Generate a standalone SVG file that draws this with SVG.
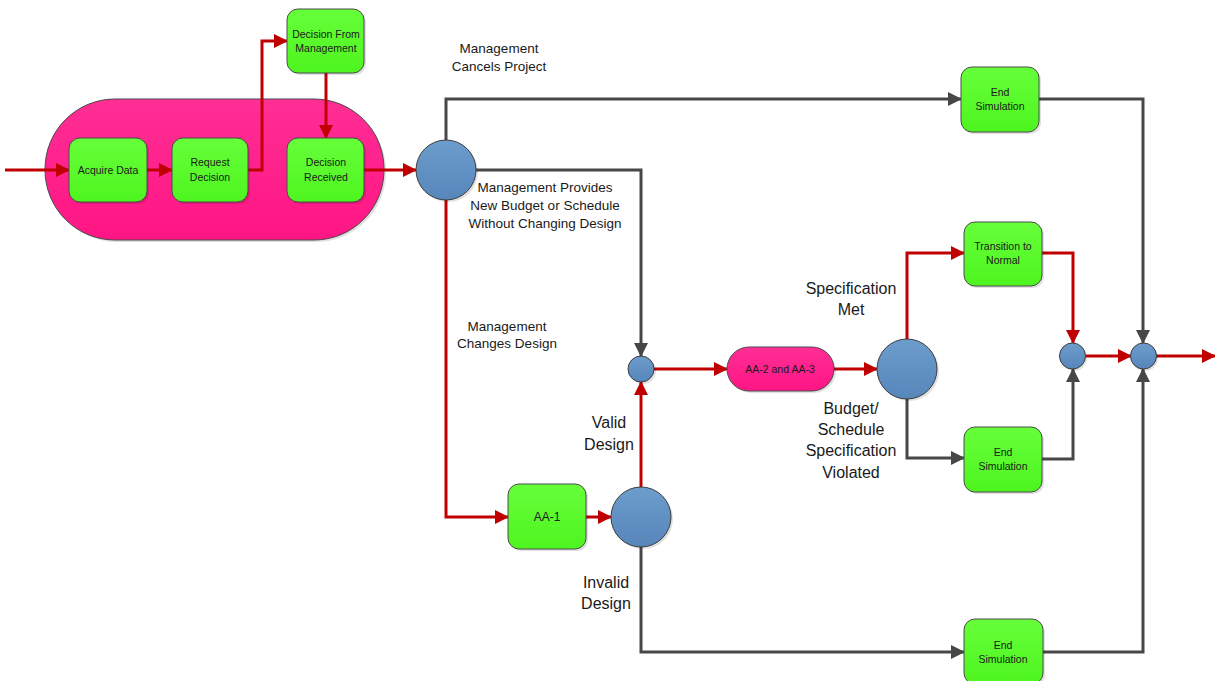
<svg xmlns="http://www.w3.org/2000/svg" width="1215" height="681" viewBox="0 0 1215 681">
<defs>
<linearGradient id="gG" x1="0" y1="0" x2="0" y2="1"><stop offset="0" stop-color="#66FF3A"/><stop offset="1" stop-color="#4EF51F"/></linearGradient>
<linearGradient id="gP" x1="0" y1="0" x2="0" y2="1"><stop offset="0" stop-color="#FF2E94"/><stop offset="1" stop-color="#FF1585"/></linearGradient>
<linearGradient id="gB" x1="0" y1="0" x2="0" y2="1"><stop offset="0" stop-color="#6C9DCC"/><stop offset="1" stop-color="#5786BB"/></linearGradient>
<marker id="ar" viewBox="0 0 14 14" refX="13" refY="7" markerWidth="14" markerHeight="14" markerUnits="userSpaceOnUse" orient="auto"><path d="M0,0 L14,7 L0,14 z" fill="#C00000"/></marker>
<marker id="ag" viewBox="0 0 14 14" refX="13" refY="7" markerWidth="14" markerHeight="14" markerUnits="userSpaceOnUse" orient="auto"><path d="M0,0 L14,7 L0,14 z" fill="#474747"/></marker>
<style>
.g{fill:url(#gG);stroke:#4a4a4a;stroke-width:1}
.p{fill:url(#gP);stroke:#4a4a4a;stroke-width:1}
.b{fill:url(#gB);stroke:#3d3d3d;stroke-width:1}
.sh{fill:#000;opacity:0.12}
.r{fill:none;stroke:#C00000;stroke-width:3;marker-end:url(#ar)}
.rn{fill:none;stroke:#C00000;stroke-width:3}
.k{fill:none;stroke:#474747;stroke-width:3;marker-end:url(#ag)}
.t{font-family:"Liberation Sans",Arial,sans-serif;font-size:10.5px;fill:#1a1a1a;text-anchor:middle}
.l{font-family:"Liberation Sans",Arial,sans-serif;font-size:13.5px;fill:#1a1a1a;text-anchor:middle}
.L{font-family:"Liberation Sans",Arial,sans-serif;font-size:16px;fill:#1a1a1a;text-anchor:middle}
</style>
</defs>
<rect width="1215" height="681" fill="#fff"/>

<g id="group-pill">
<rect class="sh" x="47" y="101" width="339" height="141" rx="70"/>
<rect class="p" x="45" y="99" width="339" height="141" rx="70"/>
</g>

<g id="connectors">
<path class="r" d="M5,170 H69"/>
<path class="r" d="M147,170 H172"/>
<path class="r" d="M248,170 H262 V41 H287"/>
<path class="r" d="M326,73 V138"/>
<path class="r" d="M364,170 H416"/>
<path class="k" d="M446,140 V99 H961"/>
<path class="k" d="M476,170 H641 V356"/>
<path class="r" d="M446,200 V517 H508"/>
<path class="r" d="M586,517 H611"/>
<path class="r" d="M641,487 V382"/>
<path class="k" d="M641,547 V652 H964"/>
<path class="r" d="M654,369 H727"/>
<path class="r" d="M834,369 H877"/>
<path class="r" d="M907,339 V253 H964"/>
<path class="k" d="M907,399 V458 H964"/>
<path class="r" d="M1042,253 H1073 V343"/>
<path class="k" d="M1042,459 H1073 V369"/>
<path class="r" d="M1086,356 H1131"/>
<path class="k" d="M1039,99 H1143 V343"/>
<path class="k" d="M1043,652 H1143 V369"/>
<path class="r" d="M1156,356 H1215"/>
</g>

<g id="node-acquire-data">
<rect class="sh" x="71" y="140" width="78" height="64" rx="11"/>
<rect class="g" x="69" y="138" width="78" height="64" rx="11"/>
<text class="t" x="108" y="174">Acquire Data</text>
</g>
<g id="node-request-decision">
<rect class="sh" x="174" y="140" width="76" height="64" rx="11"/>
<rect class="g" x="172" y="138" width="76" height="64" rx="11"/>
<text class="t" x="210" y="166">Request</text>
<text class="t" x="210" y="181">Decision</text>
</g>
<g id="node-decision-received">
<rect class="sh" x="289" y="140" width="77" height="64" rx="11"/>
<rect class="g" x="287" y="138" width="77" height="64" rx="11"/>
<text class="t" x="326" y="166">Decision</text>
<text class="t" x="326" y="181">Received</text>
</g>
<g id="node-decision-from-management">
<rect class="sh" x="289" y="11" width="77" height="64" rx="11"/>
<rect class="g" x="287" y="9" width="77" height="64" rx="11"/>
<text class="t" x="326" y="38">Decision From</text>
<text class="t" x="326" y="52">Management</text>
</g>
<g id="node-decision-circle">
<circle class="sh" cx="448" cy="172" r="30"/>
<circle class="b" cx="446" cy="170" r="30"/>
</g>
<g id="node-end-simulation-1">
<rect class="sh" x="963" y="69" width="78" height="65" rx="11"/>
<rect class="g" x="961" y="67" width="78" height="65" rx="11"/>
<text class="t" x="1000" y="96">End</text>
<text class="t" x="1000" y="110">Simulation</text>
</g>
<g id="node-merge-1">
<circle class="sh" cx="643" cy="371" r="13"/>
<circle class="b" cx="641" cy="369" r="13"/>
</g>
<g id="node-aa1">
<rect class="sh" x="510" y="486" width="78" height="65" rx="11"/>
<rect class="g" x="508" y="484" width="78" height="65" rx="11"/>
<text class="t" x="547" y="521" style="font-size:12px">AA-1</text>
</g>
<g id="node-design-circle">
<circle class="sh" cx="643" cy="519" r="30"/>
<circle class="b" cx="641" cy="517" r="30"/>
</g>
<g id="node-aa2-aa3">
<rect class="sh" x="729" y="349" width="107" height="44" rx="22"/>
<rect class="p" x="727" y="347" width="107" height="44" rx="22"/>
<text class="t" x="780" y="373">AA-2 and AA-3</text>
</g>
<g id="node-spec-circle">
<circle class="sh" cx="909" cy="371" r="30"/>
<circle class="b" cx="907" cy="369" r="30"/>
</g>
<g id="node-transition-to-normal">
<rect class="sh" x="966" y="224" width="78" height="64" rx="11"/>
<rect class="g" x="964" y="222" width="78" height="64" rx="11"/>
<text class="t" x="1003" y="250">Transition to</text>
<text class="t" x="1003" y="264">Normal</text>
</g>
<g id="node-end-simulation-2">
<rect class="sh" x="966" y="429" width="78" height="65" rx="11"/>
<rect class="g" x="964" y="427" width="78" height="65" rx="11"/>
<text class="t" x="1003" y="456">End</text>
<text class="t" x="1003" y="470">Simulation</text>
</g>
<g id="node-end-simulation-3">
<rect class="sh" x="966" y="621" width="79" height="65" rx="11"/>
<rect class="g" x="964" y="619" width="79" height="65" rx="11"/>
<text class="t" x="1003" y="649">End</text>
<text class="t" x="1003" y="663">Simulation</text>
</g>
<g id="node-merge-2">
<circle class="sh" cx="1074" cy="358" r="13"/>
<circle class="b" cx="1072.5" cy="356" r="13"/>
</g>
<g id="node-merge-3">
<circle class="sh" cx="1145" cy="358" r="13"/>
<circle class="b" cx="1143.5" cy="356" r="13"/>
</g>

<g id="labels">
<text class="l" x="499" y="53">Management</text>
<text class="l" x="499" y="71">Cancels Project</text>
<text class="l" x="545" y="192">Management Provides</text>
<text class="l" x="545" y="210">New Budget or Schedule</text>
<text class="l" x="545" y="228">Without Changing Design</text>
<text class="l" x="507" y="331">Management</text>
<text class="l" x="507" y="348">Changes Design</text>
<text class="L" x="609" y="428">Valid</text>
<text class="L" x="609" y="450">Design</text>
<text class="L" x="606" y="588">Invalid</text>
<text class="L" x="606" y="609">Design</text>
<text class="L" x="851" y="294">Specification</text>
<text class="L" x="851" y="315">Met</text>
<text class="L" x="851" y="414">Budget/</text>
<text class="L" x="851" y="435">Schedule</text>
<text class="L" x="851" y="456">Specification</text>
<text class="L" x="851" y="478">Violated</text>
</g>
</svg>
